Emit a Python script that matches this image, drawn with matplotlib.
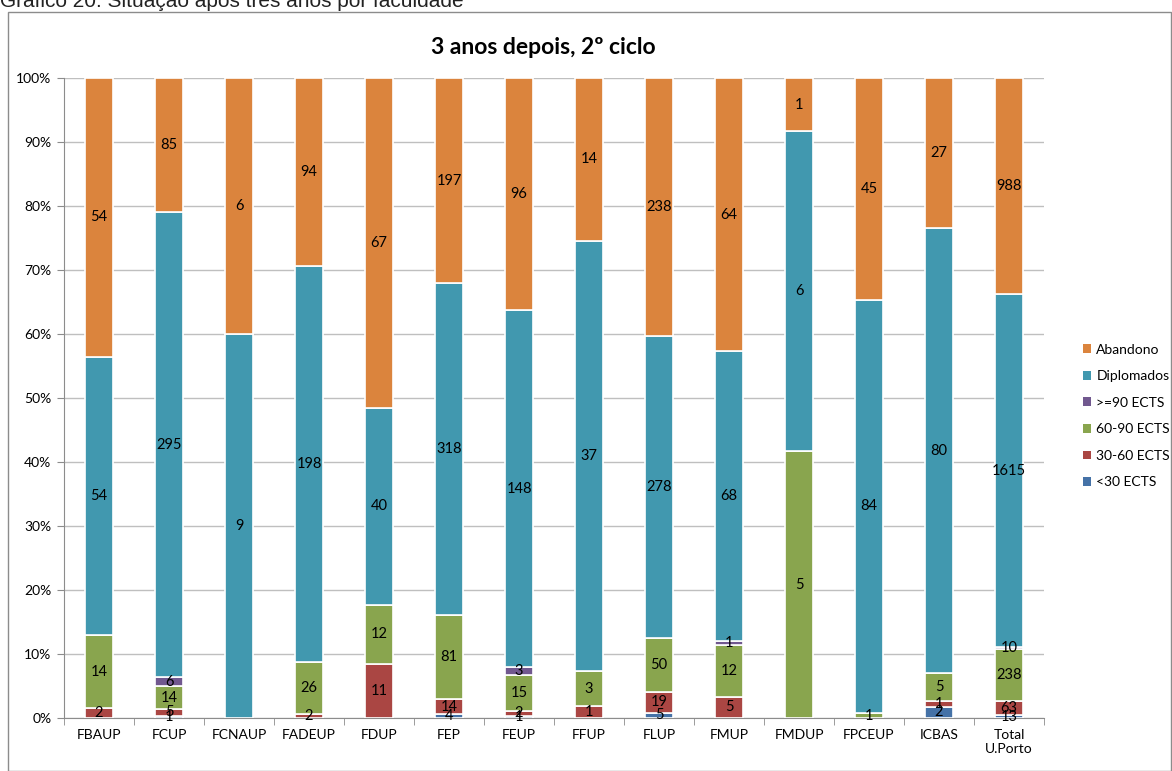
import matplotlib
matplotlib.use("Agg")
import matplotlib.pyplot as plt
from matplotlib.patches import Rectangle, Patch
import numpy as np

categories = ["FBAUP", "FCUP", "FCNAUP", "FADEUP", "FDUP", "FEP", "FEUP", "FFUP",
              "FLUP", "FMUP", "FMDUP", "FPCEUP", "ICBAS", "Total\nU.Porto"]
lt30 = [0, 1, 0, 0, 0, 4, 1, 0, 5, 0, 0, 0, 2, 13]
s30_60 = [2, 5, 0, 2, 11, 14, 2, 1, 19, 5, 0, 0, 1, 63]
s60_90 = [14, 14, 0, 26, 12, 81, 15, 3, 50, 12, 5, 1, 5, 238]
ge90 = [0, 6, 0, 0, 0, 0, 3, 0, 0, 1, 0, 0, 0, 10]
diplomados = [54, 295, 9, 198, 40, 318, 148, 37, 278, 68, 6, 84, 80, 1615]
abandono = [54, 85, 6, 94, 67, 197, 96, 14, 238, 64, 1, 45, 27, 988]

series_names = ["<30 ECTS", "30-60 ECTS", "60-90 ECTS", ">=90 ECTS", "Diplomados", "Abandono"]
series_vals = [lt30, s30_60, s60_90, ge90, diplomados, abandono]
colors = ["#4572A7", "#AA4643", "#89A54E", "#71588F", "#4198AF", "#DB843D"]

plt.rcParams['font.family'] = ['Lato', 'DejaVu Sans']

fig = plt.figure(figsize=(11.72, 7.71), dpi=100)

# outer caption (partially cut at top)
fig.text(0.0, 1.0 - 7/771, "Gráfico 20: Situação após três anos por faculdade",
         fontsize=15, family=['Liberation Sans', 'DejaVu Sans'], va='baseline', ha='left', color='#222222')

# chart border
fig.patches.append(Rectangle((8/1172, 0.0), (1171-8)/1172, 1 - 12/771,
                             transform=fig.transFigure, fill=False, edgecolor='#8c8c8c', lw=1.0))

ax = fig.add_axes([64/1172, 1 - 718/771, (1044-64)/1172, (718-78)/771])

data = np.array(series_vals, dtype=float)
totals = data.sum(axis=0)
pct = data / totals * 100
x = np.arange(len(categories))
bottom = np.zeros(len(categories))
for name, vals, p, c in zip(series_names, series_vals, pct, colors):
    ax.bar(x, p, width=0.4, bottom=bottom, color=c, edgecolor='white', linewidth=1.2, label=name, zorder=3)
    for xi, v, pi, b in zip(x, vals, p, bottom):
        if v > 0:
            ax.text(xi, b + pi / 2, str(v), ha='center', va='center', fontsize=10.5, color='black', zorder=4)
    bottom += p

ax.set_xlim(-0.5, len(categories) - 0.5)
ax.set_ylim(0, 100)
ax.set_yticks(np.arange(0, 101, 10))
ax.set_yticklabels([f"{v}%" for v in range(0, 101, 10)], fontsize=10)
ax.yaxis.grid(True, color='#bfbfbf', lw=1, zorder=0)
ax.set_xticks(x)
ax.set_xticklabels(categories, fontsize=10)
ax.set_xticks(np.arange(-0.5, len(categories), 1), minor=True)
ax.tick_params(axis='x', which='major', length=0, pad=8)
ax.tick_params(axis='x', which='minor', length=5, color='#8c8c8c')
ax.tick_params(axis='y', length=5, color='#8c8c8c', pad=4)
for s in ['top', 'right']:
    ax.spines[s].set_visible(False)
ax.spines['left'].set_color('#8c8c8c')
ax.spines['bottom'].set_color('#8c8c8c')

fig.text(543/1172, 1 - 47/771, "3 anos depois, 2º ciclo", fontsize=16.5, fontweight='bold',
         ha='center', va='center')

handles = [Patch(facecolor=c, edgecolor='none') for c in colors][::-1]
labels = series_names[::-1]
fig.legend(handles, labels, loc='upper left', bbox_to_anchor=(1070/1172, 1 - 331/771),
           frameon=False, fontsize=10, handlelength=0.6, handleheight=0.6,
           handletextpad=0.4, labelspacing=1.05)

fig.savefig("out.png", dpi=100)
